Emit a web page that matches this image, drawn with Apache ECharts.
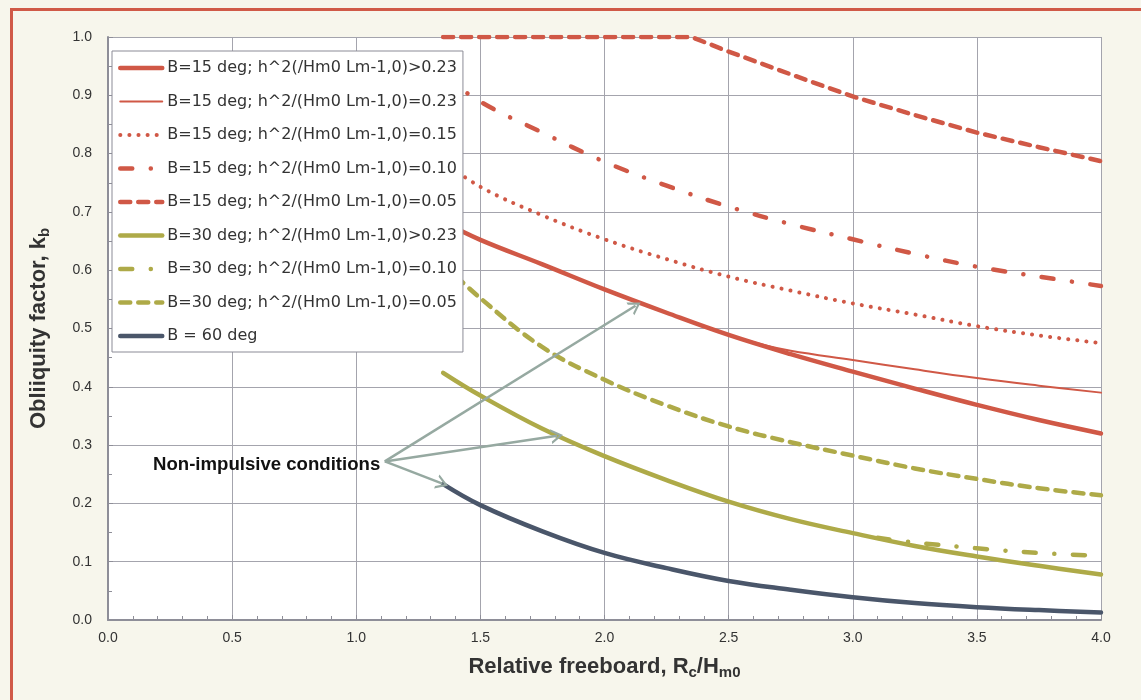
<!DOCTYPE html>
<html><head><meta charset="utf-8">
<script src="https://cdn.jsdelivr.net/npm/echarts@6/dist/echarts.min.js"></script>
<style>html,body{margin:0;padding:0;background:#f7f6ec}#c{width:1141px;height:700px}</style>
</head><body><div id="c"></div>
<script>
// ---- data ----
const seriesNames = [
  'B=15 deg; h^2(/Hm0 Lm-1,0)>0.23',
  'B=15 deg; h^2/(Hm0 Lm-1,0)=0.23',
  'B=15 deg; h^2/(Hm0 Lm-1,0)=0.15',
  'B=15 deg; h^2/(Hm0 Lm-1,0)=0.10',
  'B=15 deg; h^2/(Hm0 Lm-1,0)=0.05',
  'B=30 deg; h^2/(Hm0 Lm-1,0)>0.23',
  'B=30 deg; h^2/(Hm0 Lm-1,0)=0.10',
  'B=30 deg; h^2/(Hm0 Lm-1,0)=0.05',
  'B = 60 deg'
];
const b15_gt023 = [[1.35,0.683],[1.5,0.652],[1.75,0.610],[2.0,0.567],[2.25,0.527],[2.5,0.489],[2.75,0.456],[3.0,0.426],[3.25,0.397],[3.5,0.369],[3.75,0.343],[4.0,0.320]];
const b15_023   = [[2.5,0.489],[2.65,0.471],[2.75,0.462],[3.0,0.446],[3.25,0.430],[3.5,0.415],[3.75,0.402],[4.0,0.390]];
const b15_015   = [[1.35,0.787],[1.5,0.743],[1.75,0.694],[2.0,0.653],[2.25,0.619],[2.5,0.589],[2.75,0.565],[3.0,0.543],[3.25,0.524],[3.5,0.504],[3.75,0.488],[4.0,0.475]];
const b15_010   = [[1.35,0.935],[1.5,0.889],[1.75,0.836],[2.0,0.786],[2.25,0.745],[2.5,0.709],[2.75,0.679],[3.0,0.653],[3.25,0.628],[3.5,0.606],[3.75,0.589],[4.0,0.573]];
const b15_005   = [[1.35,1.0],[2.35,1.0],[2.5,0.975],[2.75,0.936],[3.0,0.898],[3.25,0.866],[3.5,0.836],[3.75,0.811],[4.0,0.787]];
const b30_gt023 = [[1.35,0.424],[1.5,0.385],[1.75,0.328],[2.0,0.281],[2.25,0.240],[2.5,0.203],[2.75,0.173],[3.0,0.149],[3.25,0.127],[3.5,0.109],[3.75,0.093],[4.0,0.078]];
const b30_010   = [[3.1,0.141],[3.25,0.133],[3.5,0.123],[3.75,0.115],[4.0,0.110]];
const b30_005   = [[1.35,0.611],[1.5,0.552],[1.75,0.468],[2.0,0.412],[2.25,0.368],[2.5,0.332],[2.75,0.305],[3.0,0.282],[3.25,0.260],[3.5,0.242],[3.75,0.226],[4.0,0.214]];
const b60       = [[1.35,0.233],[1.5,0.197],[1.75,0.152],[2.0,0.115],[2.25,0.089],[2.5,0.067],[2.75,0.052],[3.0,0.039],[3.25,0.029],[3.5,0.022],[3.75,0.017],[4.0,0.013]];
const annotationText = 'Non-impulsive conditions';
const arrowStart = [1.115, 0.272];
const arrowEnds = [[2.125, 0.539], [1.809, 0.316], [1.347, 0.234]];

// ---- styles ----
const RED = '#d05846', OLIVE = '#aeaa48', DARK = '#4a566a', ARROW = '#96a9a1';
const SANS = 'Liberation Sans, Arial, sans-serif';
const dashDot = [12, 18.5, 0.1, 18.4];
const dashed = [10, 8];
const dotted = [0.1, 9];

function mk(name, data, color, width, type, smooth) {
  return {
    name, type: 'line', data, symbol: 'none', smooth: smooth === undefined ? 0.4 : smooth,
    lineStyle: { color, width, type, cap: 'round', join: 'round' },
    itemStyle: { color },
    emphasis: { disabled: true }
  };
}

const chart = echarts.init(document.getElementById('c'), null, { renderer: 'canvas' });
const arrowSymbol = 'path://M0,10 L5,0 L10,10 L8.3,10 L5,3.4 L1.7,10 Z';
const nameRich = {
  a: { fontFamily: SANS, fontWeight: 'bold', fontSize: 22, color: '#333', lineHeight: 26 },
  s: { fontFamily: SANS, fontWeight: 'bold', fontSize: 15, color: '#333', lineHeight: 13, verticalAlign: 'bottom' }
};
chart.setOption({
  animation: false,
  backgroundColor: '#f7f6ec',
  grid: { left: 108, top: 37, right: 40, bottom: 80, show: true, backgroundColor: '#ffffff', borderWidth: 0 },
  xAxis: {
    type: 'value', min: 0, max: 4, interval: 0.5,
    axisLine: { lineStyle: { color: '#8e8e98', width: 2 } },
    axisTick: { show: true, inside: true, length: 5, lineStyle: { color: '#8e8e98' } },
    minorTick: { show: true, splitNumber: 5, length: 4, lineStyle: { color: '#8e8e98' } },
    splitLine: { show: true, lineStyle: { color: '#a4a4ad', width: 1 } },
    axisLabel: { formatter: v => v.toFixed(1), fontFamily: SANS, fontSize: 14, color: '#333', margin: 11 },
    name: '{a|Relative freeboard, R}{s|c}{a|/H}{s|m0}',
    nameLocation: 'middle', nameGap: 34,
    nameTextStyle: { color: '#333', rich: nameRich }
  },
  yAxis: {
    type: 'value', min: 0, max: 1, interval: 0.1,
    axisLine: { show: true, lineStyle: { color: '#8e8e98', width: 2 } },
    axisTick: { show: true, inside: true, length: 5, lineStyle: { color: '#8e8e98' } },
    minorTick: { show: true, splitNumber: 2, length: 4, lineStyle: { color: '#8e8e98' } },
    splitLine: { show: true, lineStyle: { color: '#a4a4ad', width: 1 } },
    axisLabel: { formatter: v => v.toFixed(1), fontFamily: SANS, fontSize: 14, color: '#333', margin: 16 },
    name: '{a|Obliiquity factor, k}{s|b}',
    nameLocation: 'middle', nameGap: 56, nameRotate: 90,
    nameTextStyle: { color: '#333', rich: nameRich }
  },
  legend: {
    data: seriesNames, orient: 'vertical', left: 112, top: 51,
    backgroundColor: '#ffffff', borderColor: '#8b8b96', borderWidth: 1,
    padding: [9, 6, 8, 6], itemWidth: 42, itemHeight: 14, itemGap: 17.5,
    selectedMode: false,
    itemStyle: { opacity: 0, borderWidth: 0 },
    lineStyle: { width: 'inherit', type: 'inherit', cap: 'round' },
    textStyle: { fontFamily: 'DejaVu Sans, sans-serif', fontSize: 16, color: '#333', lineHeight: 16 }
  },
  graphic: [
    { type: 'rect', shape: { x: 11.5, y: 9.5, width: 1300, height: 900 }, style: { fill: 'none', stroke: '#d05a48', lineWidth: 3 }, z: -1, silent: true },
    { type: 'text', left: 153, top: 455, style: { text: annotationText, font: 'bold 18.6px ' + SANS, fill: '#111' }, z: 100 }
  ],
  series: [
    mk(seriesNames[4], b15_005, RED, 4.5, dashed, false),
    mk(seriesNames[3], b15_010, RED, 4.5, dashDot),
    mk(seriesNames[2], b15_015, RED, 4, dotted),
    mk(seriesNames[1], b15_023, RED, 2, 'solid'),
    mk(seriesNames[0], b15_gt023, RED, 4.5, 'solid'),
    mk(seriesNames[7], b30_005, OLIVE, 4.5, dashed),
    mk(seriesNames[6], b30_010, OLIVE, 4.5, dashDot),
    mk(seriesNames[5], b30_gt023, OLIVE, 4.5, 'solid'),
    mk(seriesNames[8], b60, DARK, 4.5, 'solid'),
    {
      type: 'line', data: [], symbol: 'none', silent: true,
      markLine: {
        silent: true, symbol: ['none', arrowSymbol], symbolSize: [15, 12],
        label: { show: false },
        lineStyle: { color: ARROW, width: 2.5, type: 'solid' },
        emphasis: { disabled: true },
        data: arrowEnds.map(e => [{ coord: arrowStart }, { coord: e }])
      }
    }
  ]
});
</script></body></html>
